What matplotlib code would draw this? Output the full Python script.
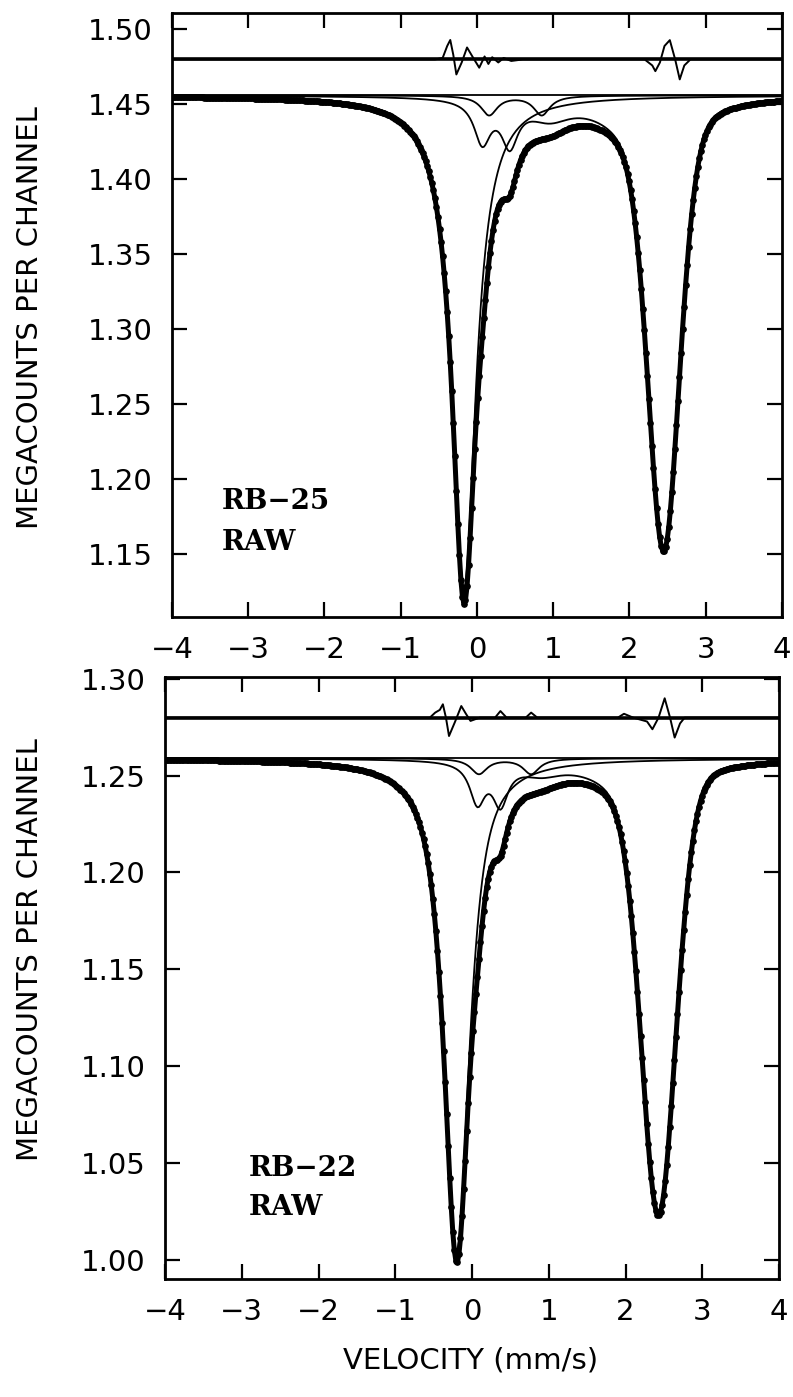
import matplotlib
matplotlib.use('Agg')
import matplotlib.pyplot as plt
from matplotlib.ticker import FormatStrFormatter
import numpy as np

plt.rcParams['font.family'] = ['DejaVu Sans']
plt.rcParams['axes.unicode_minus'] = True

# channel velocities (mm/s)
vel = np.linspace(-4, 4, 400)

# ---- RB-25 (fitted line parameters) ----
# each line: centre (mm/s), depth (megacounts), half width (mm/s), Lorentz fraction
rb25_base = 1.456
rb25_left = [-0.17, 0.3291, 0.19, 1.0]    # low-velocity Fe2+ line
rb25_right = [2.45, 0.2969, 0.25, 0.3]    # high-velocity Fe2+ line
rb25_broad_pos = [0.95, 1.90]             # weak broad absorption round the hump
rb25_broad_depth = [0.012, 0.012]
rb25_broad_hw = [0.35, 0.45]
rb25_d2_pos = [0.16, 0.85]                # shallow doublet (drawn on its own)
rb25_d2_depth = [0.013, 0.013]
rb25_d3_pos = [0.07, 0.43]                # "W" doublet
rb25_d3_depth = [0.028, 0.028]
rb25_res_zero = 1.480
rb25_res_v = [-4, -0.55, -0.45, -0.39, -0.35, -0.31, -0.27, -0.2, -0.13, -0.06,
              0.03, 0.1, 0.15, 0.2, 0.28, 0.35, 0.45, 0.6, 2.2, 2.3, 2.34, 2.4,
              2.46, 2.53, 2.6, 2.66, 2.72, 2.8, 4]
rb25_res = [0, 0, 0.001, 0.009, 0.013, 0.003, -0.010, -0.002, 0.008, 0.002,
            -0.0055, 0.002, -0.003, 0.0015, -0.002, 0.001, -0.001, 0, 0, -0.004,
            -0.0078, -0.002, 0.009, 0.0129, 0.0, -0.0133, -0.004, 0, 0]

# ---- RB-22 ----
rb22_base = 1.259
rb22_left = [-0.20, 0.2549, 0.20, 0.85]
rb22_right = [2.43, 0.2315, 0.27, 0.2]
rb22_broad_pos = [0.90, 1.85]
rb22_broad_depth = [0.006, 0.008]
rb22_broad_hw = [0.35, 0.45]
rb22_d2_pos = [0.09, 0.77]
rb22_d2_depth = [0.008, 0.008]
rb22_d3_pos = [0.07, 0.37]
rb22_d3_depth = [0.0205, 0.0205]
rb22_res_zero = 1.280
rb22_res_v = [-4, -0.55, -0.48, -0.42, -0.38, -0.34, -0.30, -0.22, -0.14, -0.08,
              -0.02, 0.1, 0.3, 0.37, 0.45, 0.7, 0.77, 0.85, 1.9, 1.98, 2.1, 2.28,
              2.35, 2.43, 2.51, 2.58, 2.64, 2.71, 2.77, 4]
rb22_res = [0, 0, 0.0026, 0.004, 0.0069, 0.0, -0.0095, -0.002, 0.006, 0.002,
            -0.0017, 0, 0, 0.0034, 0, 0, 0.0026, 0, 0, 0.002, 0, -0.002,
            -0.006, 0.0, 0.010, 0.0, -0.0103, -0.003, 0, 0]

G_D2 = 0.13
G_D3 = [0.13, 0.12]   # RB-25, RB-22


def pvoigt(x, c, d, g, eta):
    u = ((x - c) / g) ** 2
    return d * (eta / (1 + u) + (1 - eta) * np.exp(-np.log(2) * u))


def doublet(x, pos, depth, g):
    return sum(pvoigt(x, c, d, g, 1.0) for c, d in zip(pos, depth))


def panel(ax, base, left, right, b_pos, b_d, b_hw, d2_pos, d2_d, d3_pos, d3_d,
          g3, res_zero, res_v, res, ylim, yticks):
    lft = pvoigt(vel, *left)
    broad = sum(pvoigt(vel, c, d, g, 1.0) for c, d, g in zip(b_pos, b_d, b_hw))
    rest = pvoigt(vel, *right) + broad + doublet(vel, d3_pos, d3_d, g3)
    total = base - lft - rest

    ax.axhline(base, color='black', lw=1.3)
    ax.plot(vel, base - lft, color='black', lw=1.3)
    ax.plot(vel, base - doublet(vel, d2_pos, d2_d, G_D2), color='black', lw=1.3)
    ax.plot(vel, base - rest, color='black', lw=1.3)
    ax.plot(vel, total, color='black', lw=3.6, marker='o', ms=3.8)

    ax.axhline(res_zero, color='black', lw=2.6)
    ax.plot(res_v, np.array(res) + res_zero, color='black', lw=1.4)

    ax.set_xlim(-4, 4)
    ax.set_ylim(*ylim)
    ax.set_xticks(range(-4, 5))
    ax.set_yticks(yticks)
    ax.yaxis.set_major_formatter(FormatStrFormatter('%.2f'))
    ax.tick_params(direction='in', length=11, width=1.6, top=True, right=True,
                   labelsize=21, pad=14)
    for s in ax.spines.values():
        s.set_linewidth(2)


fig = plt.figure(figsize=(7.93, 13.97), dpi=100)
ax1 = fig.add_axes([0.2169, 0.5583, 0.7691, 0.4324])
ax2 = fig.add_axes([0.2081, 0.0845, 0.7743, 0.4309])

panel(ax1, rb25_base, rb25_left, rb25_right,
      rb25_broad_pos, rb25_broad_depth, rb25_broad_hw,
      rb25_d2_pos, rb25_d2_depth, rb25_d3_pos, rb25_d3_depth, G_D3[0],
      rb25_res_zero, rb25_res_v, rb25_res, (1.108, 1.511),
      np.arange(1.15, 1.501, 0.05))
panel(ax2, rb22_base, rb22_left, rb22_right,
      rb22_broad_pos, rb22_broad_depth, rb22_broad_hw,
      rb22_d2_pos, rb22_d2_depth, rb22_d3_pos, rb22_d3_depth, G_D3[1],
      rb22_res_zero, rb22_res_v, rb22_res, (0.990, 1.301),
      np.arange(1.00, 1.301, 0.05))

lab = dict(family='DejaVu Serif', fontweight='bold', fontsize=20, va='center')
ax1.text(-3.35, 1.185, 'RB\u221225', **lab)
ax1.text(-3.35, 1.158, 'RAW', **lab)
ax2.text(-2.91, 1.047, 'RB\u221222', **lab)
ax2.text(-2.91, 1.027, 'RAW', **lab)

fig.text(0.038, 0.773, 'MEGACOUNTS PER CHANNEL', rotation=90, ha='center',
         va='center', fontsize=21)
fig.text(0.038, 0.32, 'MEGACOUNTS PER CHANNEL', rotation=90, ha='center',
         va='center', fontsize=21)
fig.text(0.593, 0.026, 'VELOCITY (mm/s)', ha='center', va='center', fontsize=21)

fig.savefig('out.png', dpi=100)
